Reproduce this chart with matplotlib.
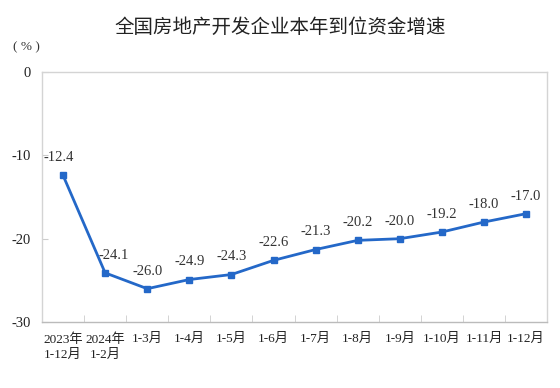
import matplotlib.pyplot as plt
import numpy as np

plt.rcParams['font.family'] = ['Liberation Serif', 'Noto Sans CJK SC']

categories = ['2023年\n1-12月', '2024年\n1-2月', '1-3月', '1-4月', '1-5月', '1-6月',
              '1-7月', '1-8月', '1-9月', '1-10月', '1-11月', '1-12月']
values = [-12.4, -24.1, -26.0, -24.9, -24.3, -22.6, -21.3, -20.2, -20.0, -19.2, -18.0, -17.0]

fig = plt.figure(figsize=(5.6, 3.88), dpi=100)
ax = fig.add_axes([0.075, 0.170, 0.902, 0.6444])

x = np.arange(len(values))
ax.plot(x, values, color='#2468c8', linewidth=2, marker='s', markersize=4)
for xi, v in zip(x, values):
    dx = 6 if xi == 1 else (-3 if xi == 0 else 0)
    ax.annotate(f'{v:.1f}', (xi, v), xytext=(dx, 8), textcoords='offset points',
                ha='center', va='bottom', fontsize=10.5, color='#333333')

ax.set_xlim(-0.5, len(values) - 0.5)
ax.set_ylim(-30, 0)
ax.set_yticks([0, -10, -20, -30])
ax.set_yticklabels(['0', '-10', '-20', '-30'], fontsize=10.5, color='#222222')
ax.set_xticks(x)
ax.set_xticklabels(categories, fontsize=9.5, color='#222222', linespacing=1.3)
ax.set_xticks(np.arange(0.5, len(values) - 0.5, 1), minor=True)
ax.tick_params(axis='x', which='major', length=0, pad=8)
ax.tick_params(axis='x', which='minor', direction='in', length=5, color='#cccccc')
ax.tick_params(axis='y', direction='in', length=4, color='#cccccc', pad=8)
for s in ax.spines.values():
    s.set_color('#d4d4d4')
    s.set_linewidth(1)
ax.spines['bottom'].set_color('#bbbbbb')

fig.text(0.5, 0.93, '全国房地产开发企业本年到位资金增速', ha='center', va='center',
         fontsize=14, family=['Noto Sans CJK SC'], color='#222222')
fig.text(0.047, 0.878, '( % )', ha='center', va='center', fontsize=9.5, color='#333333')

fig.savefig('out.png', dpi=100)
